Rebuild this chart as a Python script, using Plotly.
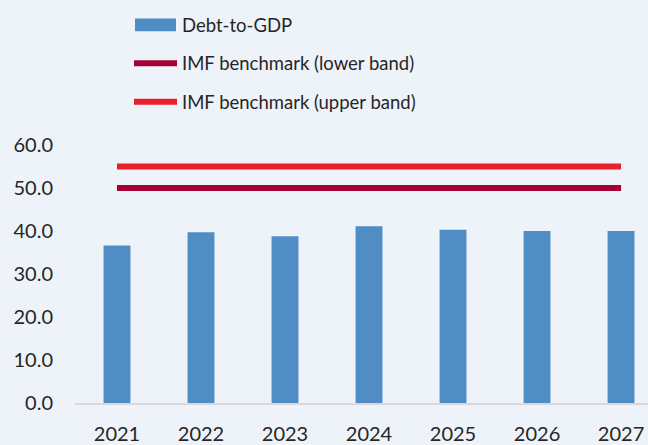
import plotly.graph_objects as go

# Debt-to-GDP ratio (% of GDP) against the IMF benchmark band
years = ["2021", "2022", "2023", "2024", "2025", "2026", "2027"]
debt_to_gdp = [36.6, 39.7, 38.8, 41.1, 40.3, 40.0, 40.0]
imf_lower = [50.0] * len(years)
imf_upper = [55.0] * len(years)

BG = "#EEF3FA"
BAR_BLUE = "#4F8DC4"
LOWER_RED = "#A50034"
UPPER_RED = "#E8202A"
TEXT = "#262626"
FONT = "Lato, 'Open Sans', sans-serif"

fig = go.Figure()
fig.add_trace(go.Bar(x=years, y=debt_to_gdp, name="Debt-to-GDP",
                     marker=dict(color=BAR_BLUE, line=dict(width=0))))
fig.add_trace(go.Scatter(x=years, y=imf_lower, mode="lines",
                         name="IMF benchmark (lower band)",
                         line=dict(color=LOWER_RED, width=6)))
fig.add_trace(go.Scatter(x=years, y=imf_upper, mode="lines",
                         name="IMF benchmark (upper band)",
                         line=dict(color=UPPER_RED, width=6)))

# Figure geometry (pixels)
W, H = 648, 445
M_L, M_R, M_T, M_B = 75, 0, 145, 38
PLOT_W = W - M_L - M_R
PLOT_H = H - M_T - M_B


def px_x(x):
    """Figure pixel column -> paper x (relative to the plot area)."""
    return (x - M_L) / PLOT_W


def px_y(y):
    """Figure pixel row -> paper y (relative to the plot area)."""
    return (H - M_B - y) / PLOT_H


# Legend drawn as a stacked key above the plot area
legend_rows = [
    ("bar", BAR_BLUE, "Debt-to-GDP", 23),
    ("line", LOWER_RED, "IMF benchmark (lower band)", 62),
    ("line", UPPER_RED, "IMF benchmark (upper band)", 101),
]
shapes = []
annotations = []
for kind, color, label, ypx in legend_rows:
    if kind == "bar":
        shapes.append(dict(type="rect", xref="paper", yref="paper",
                           x0=px_x(135), x1=px_x(176),
                           y0=px_y(ypx + 6.5), y1=px_y(ypx - 6.5),
                           fillcolor=color, line=dict(width=0)))
    else:
        shapes.append(dict(type="line", xref="paper", yref="paper",
                           x0=px_x(134), x1=px_x(177),
                           y0=px_y(ypx), y1=px_y(ypx),
                           line=dict(color=color, width=6)))
    annotations.append(dict(xref="paper", yref="paper", x=px_x(180), y=px_y(ypx),
                            xanchor="left", yanchor="middle", showarrow=False,
                            text=label, font=dict(size=18.5, color=TEXT, family=FONT)))

fig.update_layout(
    width=W, height=H,
    margin=dict(l=M_L, r=M_R, t=M_T, b=M_B, pad=0),
    paper_bgcolor=BG, plot_bgcolor=BG,
    showlegend=False,
    bargap=0.68,
    font=dict(family=FONT, size=20, color=TEXT),
    shapes=shapes,
    annotations=annotations,
    xaxis=dict(type="category", range=[-0.5, 6.321], showgrid=False,
               showline=True, linecolor="#D9D9D9", linewidth=2,
               ticks="", ticklabelstandoff=12,
               tickfont=dict(size=20, color=TEXT, family=FONT)),
    yaxis=dict(range=[0, 60], dtick=10, tickformat=".1f", showgrid=False,
               zeroline=False, showline=False, ticks="", ticklabelstandoff=21,
               tickfont=dict(size=20, color=TEXT, family=FONT)),
)

fig.write_html("out.html")
